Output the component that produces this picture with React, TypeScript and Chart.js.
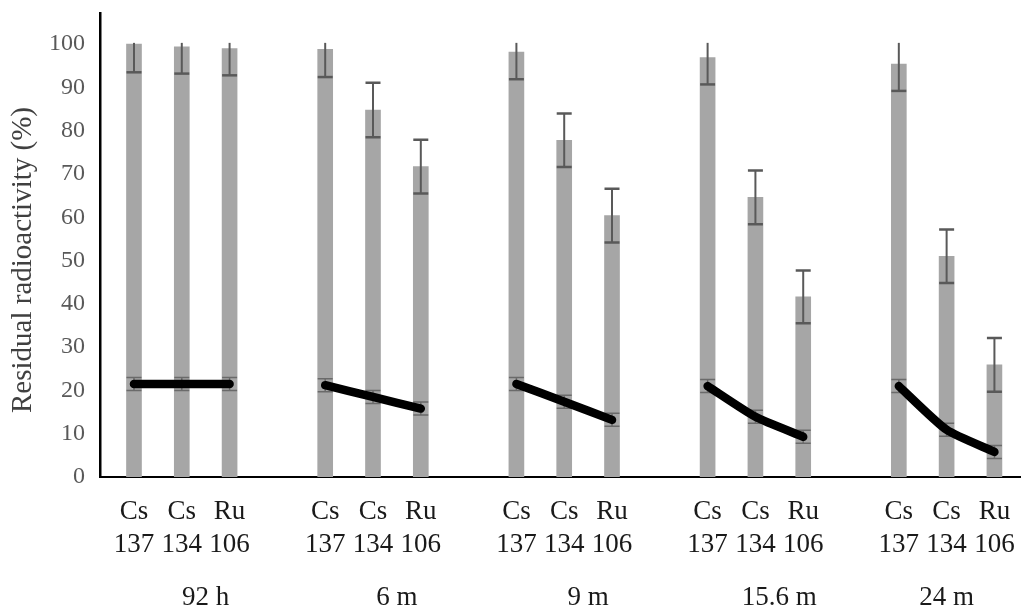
import React, { useEffect, useRef } from "react";
import { Chart, registerables } from "chart.js";

Chart.register(...registerables);

// ---- data ----
const groupLabels = ["92 h", "6 m", "9 m", "15.6 m", "24 m"];
const isotopeLabels = [["Cs", "137"], ["Cs", "134"], ["Ru", "106"]];
// slot position (in bar units) of each group caption
const groupLabelSlots = [1.5, 5.5, 9.5, 13.5, 17.0];
const barValues = [100.0, 99.4, 99.0, 98.8, 84.8, 71.7, 98.2, 77.8, 60.4, 96.9, 64.6, 41.6, 95.4, 51.0, 25.9];
const barErrors = [6.5, 6.2, 6.2, 6.4, 6.3, 6.2, 6.3, 6.2, 6.2, 6.2, 6.2, 6.1, 6.2, 6.2, 6.2];
const lineValues = [21.5, 21.5, 21.5, 21.2, 18.5, 15.8, 21.5, 17.4, 13.2, 21.0, 13.9, 9.3, 21.0, 10.9, 5.8];
const lineErrors = [1.5, 1.5, 1.5, 1.5, 1.5, 1.5, 1.5, 1.5, 1.5, 1.5, 1.5, 1.5, 1.5, 1.5, 1.5];
const yTicks = [0, 10, 20, 30, 40, 50, 60, 70, 80, 90, 100];
const yTitle = "Residual radioactivity (%)";
const yMax = 107.2;
const errorClip = 100.3;

const SERIF = '"Liberation Serif", "Times New Roman", serif';
const perGroup = 3;
const slotOf = (k: number) => Math.floor(k / perGroup) * (perGroup + 1) + (k % perGroup);
const barPositions = barValues.map((_, k) => slotOf(k));

const barData = barValues.map((v, k) => ({ x: slotOf(k), y: v }));
const lineData: { x: number; y: number | null }[] = [];
lineValues.forEach((v, k) => {
  lineData.push({ x: slotOf(k), y: v });
  if (k % perGroup === perGroup - 1 && k < lineValues.length - 1) {
    lineData.push({ x: slotOf(k) + 1, y: null });
  }
});

const errorPlugin = {
  id: "errorBars",
  afterDatasetDraw(chart: any, args: any) {
    if (args.index !== 0) return;
    const ctx = chart.ctx;
    const xs = chart.scales.x;
    const ys = chart.scales.y;
    const half = 7.5;
    ctx.save();
    ctx.strokeStyle = "#595959";
    barValues.forEach((v, k) => {
      const px = xs.getPixelForValue(slotOf(k));
      const hiVal = v + barErrors[k];
      const clipped = hiVal > errorClip;
      const hi = ys.getPixelForValue(Math.min(hiVal, errorClip));
      const lo = ys.getPixelForValue(v - barErrors[k]);
      ctx.lineWidth = 2;
      ctx.beginPath();
      ctx.moveTo(px, hi);
      ctx.lineTo(px, lo);
      ctx.stroke();
      ctx.lineWidth = 2.5;
      ctx.beginPath();
      ctx.moveTo(px - half, lo);
      ctx.lineTo(px + half, lo);
      if (!clipped) {
        ctx.moveTo(px - half, hi);
        ctx.lineTo(px + half, hi);
      }
      ctx.stroke();
    });
    ctx.lineWidth = 1.5;
    ctx.strokeStyle = "#6a6a6a";
    lineValues.forEach((v, k) => {
      const px = xs.getPixelForValue(slotOf(k));
      const hi = ys.getPixelForValue(v + lineErrors[k]);
      const lo = ys.getPixelForValue(v - lineErrors[k]);
      ctx.beginPath();
      ctx.moveTo(px, hi);
      ctx.lineTo(px, lo);
      ctx.moveTo(px - half, hi);
      ctx.lineTo(px + half, hi);
      ctx.moveTo(px - half, lo);
      ctx.lineTo(px + half, lo);
      ctx.stroke();
    });
    ctx.restore();
  },
};

const textPlugin = {
  id: "extraText",
  afterDraw(chart: any) {
    const ctx = chart.ctx;
    const xs = chart.scales.x;
    const ys = chart.scales.y;
    ctx.save();
    ctx.font = `27px ${SERIF}`;
    ctx.fillStyle = "#1a1a1a";
    ctx.textAlign = "center";
    ctx.textBaseline = "alphabetic";
    groupLabels.forEach((t, g) => {
      ctx.fillText(t, xs.getPixelForValue(groupLabelSlots[g]), xs.bottom - 3);
    });
    ctx.restore();
    // y-axis title
    ctx.save();
    ctx.font = `29px ${SERIF}`;
    ctx.fillStyle = "#404040";
    ctx.textAlign = "center";
    ctx.textBaseline = "middle";
    ctx.translate(ys.left + 23, (ys.top + ys.bottom) / 2 + 15);
    ctx.rotate(-Math.PI / 2);
    ctx.fillText(yTitle, 0, 0);
    ctx.restore();
  },
};

export default function App() {
  const ref = useRef<HTMLCanvasElement | null>(null);
  useEffect(() => {
    if (!ref.current) return;
    const chart = new Chart(ref.current, {
      type: "bar",
      data: {
        datasets: [
          {
            type: "bar",
            data: barData as any,
            backgroundColor: "#a6a6a6",
            barThickness: 15,
            order: 1,
          },
          {
            type: "line",
            data: lineData as any,
            borderColor: "#000000",
            borderWidth: 8.5,
            borderCapStyle: "round",
            borderJoinStyle: "round",
            pointRadius: 0,
            tension: 0.2,
            spanGaps: false,
            order: 0,
          } as any,
        ],
      },
      options: {
        animation: false,
        responsive: false,
        devicePixelRatio: 1,
        layout: { padding: { top: 13, left: 0, right: 0, bottom: 0 } },
        plugins: { legend: { display: false }, tooltip: { enabled: false } },
        scales: {
          x: {
            type: "linear",
            offset: false,
            min: -0.711,
            max: 18.556,
            afterBuildTicks: (s: any) => {
              s.ticks = barPositions.map((v) => ({ value: v }));
            },
            afterFit: (s: any) => {
              s.height = 131;
              s.paddingLeft = 0;
              s.paddingRight = 0;
            },
            grid: { display: false, drawTicks: false },
            border: { display: true, color: "#000000", width: 2 },
            ticks: {
              autoSkip: false,
              maxRotation: 0,
              minRotation: 0,
              padding: 18,
              color: "#1a1a1a",
              font: { family: SERIF, size: 27, lineHeight: 1.22 },
              callback: (_v: any, i: number) => isotopeLabels[i % perGroup],
            },
          },
          y: {
            min: 0,
            max: yMax,
            afterBuildTicks: (s: any) => {
              s.ticks = yTicks.map((v) => ({ value: v }));
            },
            afterFit: (s: any) => {
              s.width = 100;
              s.paddingTop = 0;
              s.paddingBottom = 0;
            },
            grid: { display: false, drawTicks: false },
            border: { display: true, color: "#000000", width: 2.5 },
            ticks: {
              padding: 15,
              color: "#595959",
              font: { family: SERIF, size: 24 },
            },
            title: { display: false },
          },
        },
      },
      plugins: [errorPlugin, textPlugin],
    } as any);
    return () => chart.destroy();
  }, []);
  return (
    <div style={{ position: "absolute", left: 0, top: 0, width: 1021, height: 608, background: "#fff" }}>
      <canvas ref={ref} width={1021} height={608} />
    </div>
  );
}
